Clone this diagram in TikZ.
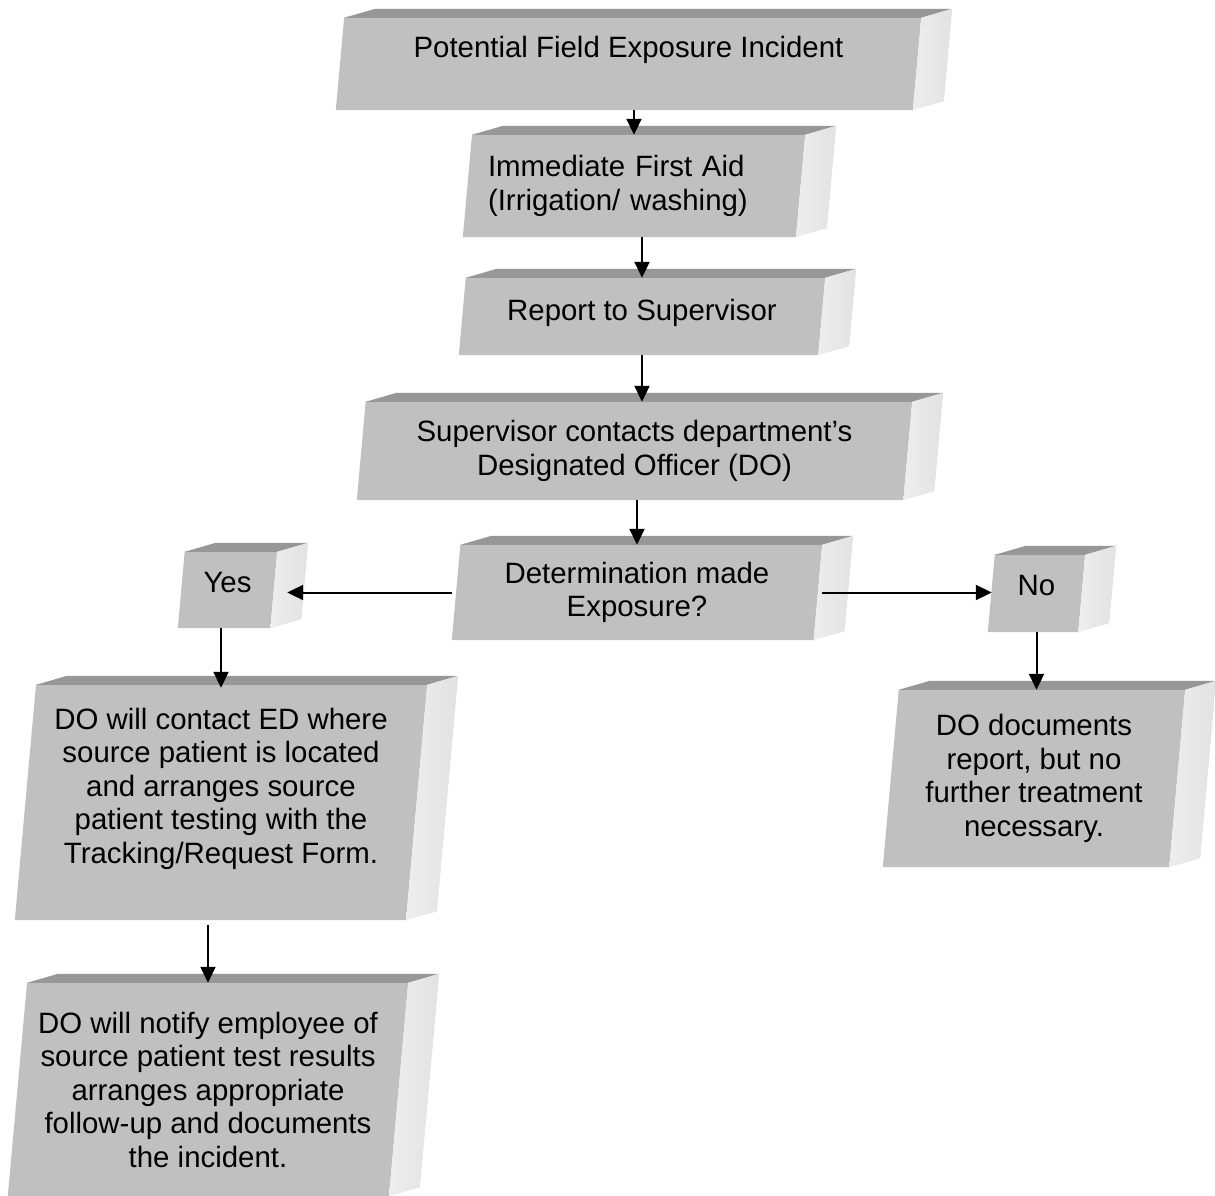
\documentclass[tikz,border=0pt]{standalone}
\usepackage{fontspec}
\setmainfont{Liberation Sans}
\usetikzlibrary{arrows.meta,backgrounds,calc}
\definecolor{slabfront}{HTML}{C0C0C0}
\definecolor{slabtop}{HTML}{979797}
\definecolor{slabside}{HTML}{E2E2E2}
\tikzset{
  slab/.style={inner sep=0pt, align=center, font=\fontsize{29.4}{33.5}\selectfont},
  flow/.style={-{Triangle[length=16pt,width=15pt]}, line width=2pt},
}
\begin{document}
\begin{tikzpicture}[x=1pt,y=-1pt]
  \useasboundingbox (0,0) rectangle (1215,1196);
  % main column
  \node[slab,minimum width=585pt,minimum height=92pt] (incident) at (628.5,64) {Potential Field Exposure Incident\\ \mbox{}};
  \node[slab,minimum width=342pt,minimum height=102pt,align=left,text width=292pt] (aid) at (634,186) {Immediate First Aid\\(Irrigation/ washing)};
  \node[slab,minimum width=366pt,minimum height=77pt,text depth=14pt] (report) at (642,316.5) {Report to Supervisor};
  \node[slab,minimum width=555pt,minimum height=98pt] (contact) at (634.5,451) {Supervisor contacts department’s\\Designated Officer (DO)};
  \node[slab,minimum width=370pt,minimum height=95pt] (decide) at (637,592.5) {Determination made\\Exposure?};
  % branches
  \node[slab,minimum width=99pt,minimum height=76pt,text depth=16pt] (yes) at (227.5,590) {Yes};
  \node[slab,minimum width=97pt,minimum height=77pt,text depth=16pt] (no) at (1036.5,593.5) {No};
  \node[slab,minimum width=412pt,minimum height=235pt] (arrange) at (221,802.5) {DO will contact ED where\\source patient is located\\and arranges source\\patient testing with the\\Tracking/Request Form.\\ \mbox{}};
  \node[slab,minimum width=302pt,minimum height=177pt] (nodoc) at (1034,778.5) {DO documents\\report, but no\\further treatment\\necessary.};
  \node[slab,minimum width=400pt,minimum height=213pt] (notify) at (208,1089.5) {DO will notify employee of\\source patient test results\\arranges appropriate\\follow-up and documents\\the incident.};

  % slanted 3d faces behind the text
  \begin{scope}[on background layer]
    \foreach \b in {incident,aid,report,contact,decide,yes,no,arrange,nodoc,notify} {
      \fill[slabfront] let \p1=(\b.north west), \p2=(\b.south east), \n1={0.09*(\y1-\y2)} in
        (\x1+\n1,\y1) -- (\x2,\y1) -- (\x2-\n1,\y2) -- (\x1,\y2) -- cycle;
      \fill[slabtop] let \p1=(\b.north west), \p2=(\b.south east), \n1={0.09*(\y1-\y2)} in
        (\x1+\n1,\y1) -- (\x1+\n1+31pt,\y1+9pt) -- (\x2+31pt,\y1+9pt) -- (\x2,\y1) -- cycle;
      \shade[left color=slabside!60!white, right color=slabside] let \p1=(\b.north west), \p2=(\b.south east), \n1={0.09*(\y1-\y2)} in
        (\x2,\y1) -- (\x2+31pt,\y1+9pt) -- (\x2+31pt-\n1,\y2+9pt) -- (\x2-\n1,\y2) -- cycle;
    }
  \end{scope}

  % arrows
  \draw[flow] (incident.south -| aid.north) -- (aid.north);
  \draw[flow] (aid.south -| report.north) -- (report.north);
  \draw[flow] (report.south) -- (report.south |- contact.north);
  \draw[flow] (contact.south -| decide.north) -- (decide.north);
  \draw[flow] (decide.west) -- ($(decide.west -| yes.east)+(10pt,0)$);
  \draw[flow] (decide.east) -- ($(decide.east -| no.west)+(4pt,0)$);
  \draw[flow] (yes.south -| arrange.north) -- ($(arrange.north)+(0,-3pt)$);
  \draw[flow] (no.south) -- (no.south |- nodoc.north);
  \draw[flow,shorten <=5pt] (arrange.south -| notify.north) -- (notify.north);
\end{tikzpicture}
\end{document}
